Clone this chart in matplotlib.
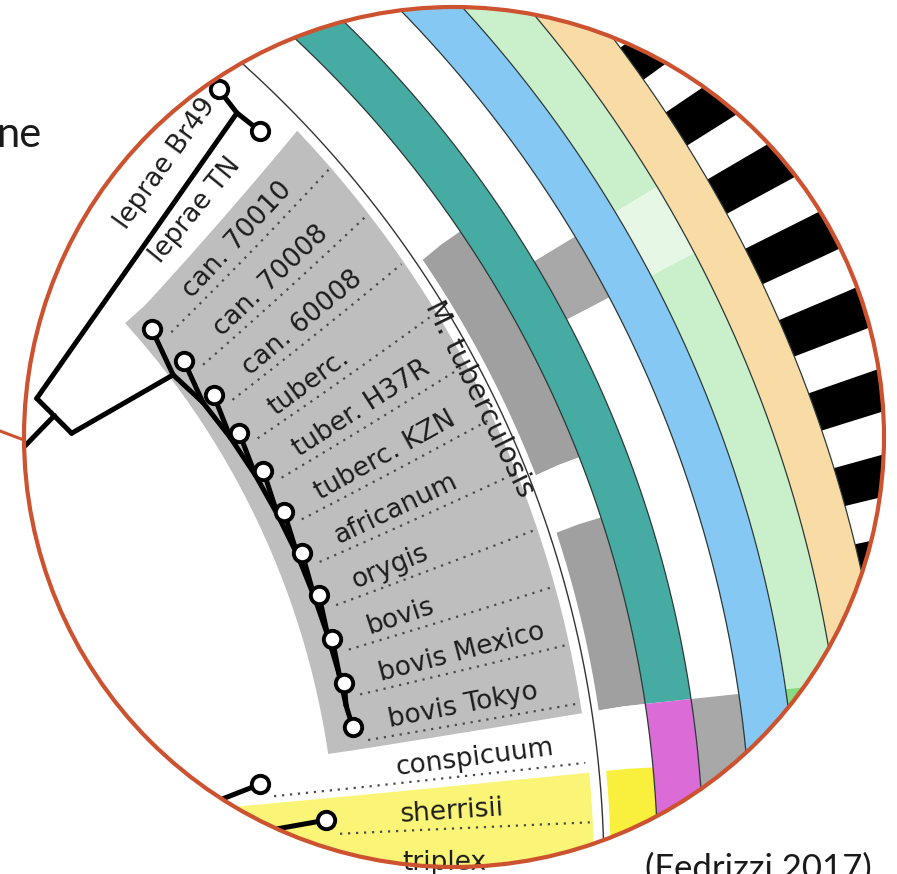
import numpy as np
import matplotlib.pyplot as plt
from matplotlib.patches import Polygon, Circle

# tips of the visible part of the tree, top to bottom
leaves = ["leprae Br49", "leprae TN", "can. 70010", "can. 70008", "can. 60008",
          "tuberc.", "tuber. H37R", "tuberc. KZN", "africanum", "orygis", "bovis",
          "bovis Mexico", "bovis Tokyo", "conspicuum", "sherrisii", "triplex"]
# distance of each tip from the tree centre
tip_depth = [1054, 1052, 838, 843, 847, 848, 850, 850, 850, 851, 850.5, 851, 850.5,
             750, 813, 800]

# internal nodes: name, slot (position in leaf order), depth
inner_names = ["L", "Pa", "Pb", "Pm", "Pr",
               "M0", "M1", "M2", "M3", "M4", "M5", "M6", "M7", "M8", "M9",
               "C0", "C1"]
inner_slot = [0.5, 1.41, 2.71, 2.06, 2.54,
              3.1, 4.0, 5.0, 6.0, 7.0, 8.0, 9.0, 9.9, 10.8, 11.5,
              13.75, 14.5]
inner_depth = [1049, 706, 710, 708, 560,
               826, 834, 838, 841, 843, 845, 846, 847, 848, 848,
               650, 655]

edges = [("Pm", "Pr"), ("Pa", "Pb"), ("Pa", "L"), ("Pb", "M0"),
         ("L", "leprae Br49"), ("L", "leprae TN"),
         ("C0", "conspicuum"), ("C0", "C1"), ("C1", "sherrisii"), ("C1", "triplex")]
# M. tuberculosis complex is a ladder: M_k -> tip, M_k -> M_k+1
for k in range(10):
    edges.append(("M%d" % k, leaves[k + 2]))
    if k < 9:
        edges.append(("M%d" % k, "M%d" % (k + 1)))
edges.append(("M9", leaves[12]))

# annotation rings, one colour per tip (inner -> outer)
ring_ab = ["w"] * 5 + ["dg"] * 4 + ["w"] + ["dg"] * 3 + ["w"] + ["y"] * 2
ring_cd = ["teal"] * 13 + ["mag"] * 3
ring_ef = ["w"] * 6 + ["g3"] + ["w"] * 6 + ["g3"] * 3
ring_gh = ["blue"] * 16
ring_ij = ["lg"] * 6 + ["llg"] + ["lg"] * 6 + ["gr"] * 3
ring_kl = ["peach"] * 16
stripe = [1] * 16

palette = {"w": "white", "dg": "#a0a0a0", "y": "#f8f03c", "teal": "#46aca3",
           "mag": "#db6bd6", "g3": "#a8a8a8", "blue": "#86c8f4", "lg": "#caf0cb",
           "llg": "#e6f7e5", "gr": "#86da80", "peach": "#f9dca5"}

rings = [ring_ab, ring_cd, ring_ef, ring_gh, ring_ij, ring_kl]
ring_r = [(1096, 1143), (1143, 1189), (1189, 1237), (1237, 1284), (1284, 1333), (1333, 1380)]

CX, CY = -485.0, 0.0


def frame(r):
    start = np.interp(r, [850, 1120, 1450], [46.67, 48.6, 49.2])
    step = np.interp(r, [850, 1120, 1450], [3.062, 3.2, 3.3])
    return start, step


def to_xy(slot, r):
    start, step = frame(r)
    th = np.radians(start - step * np.asarray(slot))
    return CX + r * np.cos(th), CY + r * np.sin(th)


def cell(s0, s1, r0, r1, n=30):
    ss = np.linspace(s0, s1, n)
    rr = np.linspace(r0, r1, n)
    pts = [to_xy(s, r0) for s in ss] + [to_xy(s1, r) for r in rr] + \
          [to_xy(s, r1) for s in ss[::-1]] + [to_xy(s0, r) for r in rr[::-1]]
    return np.array(pts)


def runs(colours):
    # merge neighbouring tips of the same colour into one block
    out = []
    start = 0
    for i in range(1, len(colours) + 1):
        if i == len(colours) or colours[i] != colours[start]:
            out.append((colours[start], start, i - 1))
            start = i
    return out


fig = plt.figure(figsize=(8.97, 8.74), dpi=100)
ax = fig.add_axes([0, 0, 1, 1])
ax.set_xlim(0, 897)
ax.set_ylim(0, 874)
ax.axis("off")

clip = Circle((454, 437), 430, transform=ax.transData)


def add(artist):
    artist.set_clip_path(clip)
    return artist


# clade backgrounds behind the labels
add(ax.add_patch(Polygon(cell(1.5, 12.5, 822, 1079), closed=True, fc="#bebebe", ec="none", zorder=1)))
add(ax.add_patch(Polygon(cell(13.5, 18, 600, 1079), closed=True, fc="#faf577", ec="none", zorder=1)))

# coloured rings
n = len(leaves)
for colours, (r0, r1) in zip(rings, ring_r):
    for c, a, b in runs(colours):
        s0 = a - 0.5 if a > 0 else -4
        s1 = b + 0.5 if b < n - 1 else 19
        add(ax.add_patch(Polygon(cell(s0, s1, r0, r1), closed=True,
                                 fc=palette[c], ec="none", zorder=1)))

# striped outer ring
for i, v in enumerate(stripe):
    if v:
        add(ax.add_patch(Polygon(cell(i - 0.25, i + 0.25, 1380, 1480), closed=True,
                                 fc="black", ec="none", zorder=1)))

# thin ring borders
s_all = np.linspace(-4, 19, 200)
for r in [1143, 1189, 1237, 1284, 1333, 1380]:
    x, y = to_xy(s_all, r)
    add(ax.plot(x, y, color="#2a3837", lw=0.9, zorder=2)[0])
x, y = to_xy(s_all, 1089)
add(ax.plot(x, y, color="#333333", lw=1.0, zorder=2)[0])

# dotted guide lines from tips to the clade edge
for i in range(2, n):
    rr = np.linspace(tip_depth[i] + 13, 1076, 40)
    x, y = to_xy(np.full_like(rr, i + 0.33), rr)
    add(ax.plot(x, y, color="#4a4a4a", lw=1.6, ls=(0, (1, 2.6)), zorder=2)[0])

# tree branches
pos = {}
for i, name in enumerate(leaves):
    pos[name] = to_xy(i, tip_depth[i])
for name, s, d in zip(inner_names, inner_slot, inner_depth):
    pos[name] = to_xy(s, d)
for a, b in edges:
    (x0, y0), (x1, y1) = pos[a], pos[b]
    add(ax.plot([x0, x1], [y0, y1], color="black", lw=3.6,
                solid_capstyle="round", zorder=3)[0])

# tip markers
for name in leaves:
    x, y = pos[name]
    add(ax.plot(x, y, "o", ms=12.5, mfc="white", mec="black", mew=2.8, zorder=4)[0])

# tip labels, radial
for i, name in enumerate(leaves):
    x0, y0 = to_xy(i, 887)
    x1, y1 = to_xy(i, 1040)
    rot = np.degrees(np.arctan2(y1 - y0, x1 - x0))
    add(ax.text(x0, y0, name, rotation=rot, rotation_mode="anchor", ha="left",
                va="center", fontsize=19, color="#1c1c1c", zorder=5))

# clade name along the arc
xm, ym = to_xy(6.95, 1075)
th = np.degrees(np.arctan2(ym - CY, xm - CX))
add(ax.text(xm, ym, "M. tuberculosis", rotation=th - 90, rotation_mode="anchor",
            ha="center", va="center", fontsize=20.5, color="#1c1c1c", zorder=5))

# callout circle and pointer
ax.add_patch(Circle((454, 437), 430, fc="none", ec="#cd5230", lw=3.0, zorder=10))
ax.plot([0, 24], [443, 434], color="#cd5230", lw=2.2, zorder=10)

ax.text(41, 727, "ne", ha="right", va="baseline", fontsize=30,
        family="Lato", color="#1a1a1a")
ax.text(645, 21, "(Fedrizzi 2017)", ha="left", va="top", fontsize=25,
        family="Lato", color="#1a1a1a")

fig.savefig("out.png", dpi=100)
